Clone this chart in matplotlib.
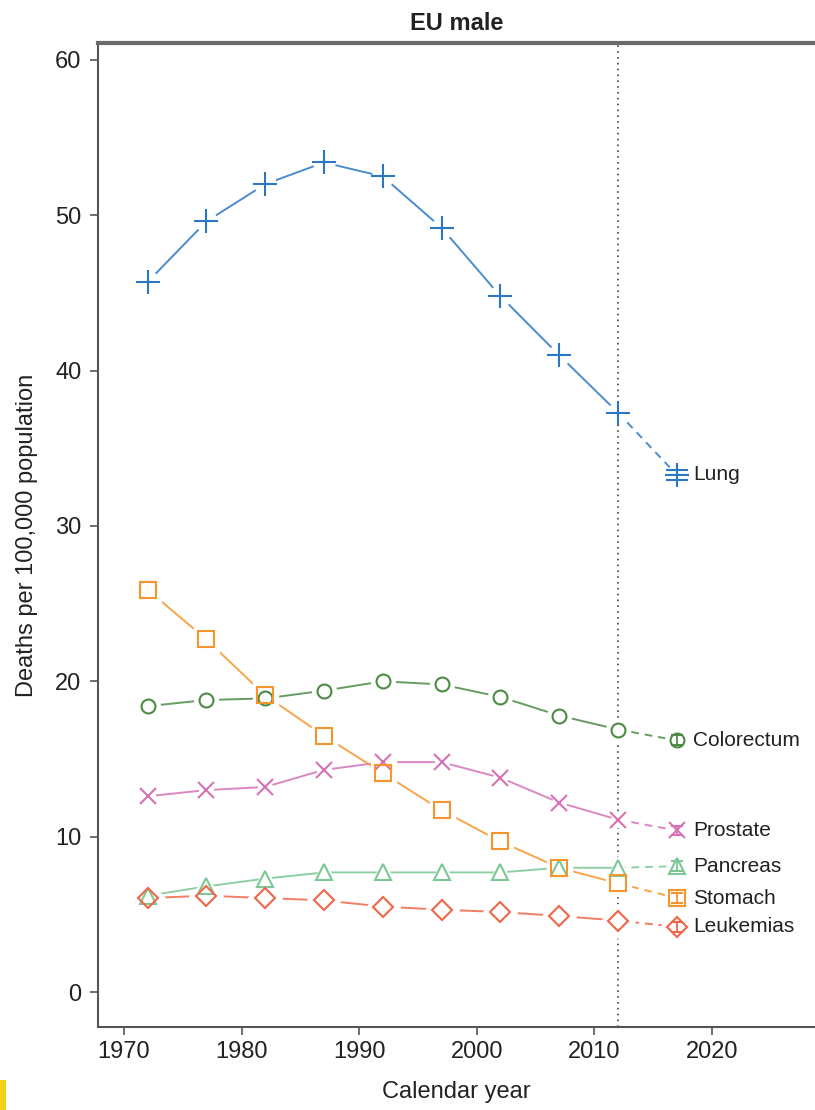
import numpy as np
import matplotlib
matplotlib.use('Agg')
import matplotlib.pyplot as plt
from matplotlib.patches import Rectangle

plt.rcParams['font.family'] = ['Liberation Sans', 'DejaVu Sans']

# Observed years (5-year midpoints) and the predicted year
years = [1972, 1977, 1982, 1987, 1992, 1997, 2002, 2007, 2012]
pred_year = 2017

cancers = ['Lung', 'Colorectum', 'Prostate', 'Pancreas', 'Stomach', 'Leukemias']
lung = [45.7, 49.6, 52.0, 53.4, 52.5, 49.2, 44.8, 41.0, 37.3]
colorectum = [18.4, 18.8, 18.9, 19.4, 20.0, 19.8, 19.0, 17.8, 16.9]
prostate = [12.6, 13.0, 13.2, 14.3, 14.8, 14.8, 13.8, 12.2, 11.1]
pancreas = [6.2, 6.8, 7.3, 7.7, 7.7, 7.7, 7.7, 8.0, 8.0]
stomach = [25.9, 22.7, 19.1, 16.5, 14.1, 11.7, 9.7, 8.0, 7.0]
leukemias = [6.05, 6.2, 6.05, 5.9, 5.5, 5.3, 5.15, 4.9, 4.6]
predicted = [33.3, 16.2, 10.4, 8.1, 6.05, 4.2]

series = [lung, colorectum, prostate, pancreas, stomach, leukemias]
colors = ['#2a78c4', '#4d8a45', '#d672b6', '#7cc795', '#f7952c', '#ef6649']
markers = ['+', 'o', 'x', '^', 's', 'D']
sizes = [17, 10, 11, 11, 11, 10]
cap_sizes = [16, 8, 9, 9, 9, 9]

fig = plt.figure(figsize=(8.15, 11.1), dpi=100)
ax = fig.add_axes([98 / 815, 1 - 1027 / 1110, 1 - 98 / 815, (1027 - 43) / 1110])

for vals, pred, col, mk, ms, cs, name in zip(series, predicted, colors, markers,
                                            sizes, cap_sizes, cancers):
    ax.plot(years, vals, color=col, lw=1.4, alpha=0.85, zorder=2)
    ax.plot([years[-1], pred_year], [vals[-1], pred], color=col, lw=1.4,
            alpha=0.85, ls=(0, (4, 3)), zorder=2)
    # white halo leaves a small gap between the line and each marker
    xs = years + [pred_year]
    ys = vals + [pred]
    if mk in ('+', 'x'):
        ax.plot(xs, ys, ls='none', marker='o', ms=ms * 0.9, mfc='white',
                mec='white', zorder=3)
    else:
        ax.plot(xs, ys, ls='none', marker=mk, ms=ms + 7, mfc='white',
                mec='white', zorder=3)
    ax.plot(years, vals, ls='none', marker=mk, ms=ms, mfc='none', mec=col,
            mew=1.5, zorder=4)
    ax.errorbar([pred_year], [pred], yerr=0.32, fmt=mk, ms=ms, mfc='none',
                mec=col, mew=1.5, ecolor=col, elinewidth=1.3, capsize=cs / 2,
                capthick=1.3, zorder=4)
    ax.text(2018.4, pred, name, fontsize=15, va='center', ha='left',
            color='#222222', zorder=5)

ax.axvline(2012, color='#444444', lw=1.2, ls=(0, (1, 2.5)), zorder=1)

ax.set_xlim(1967.79, 2028.76)
ax.set_ylim(-2.25, 61.09)
ax.set_xticks([1970, 1980, 1990, 2000, 2010, 2020])
ax.set_yticks([0, 10, 20, 30, 40, 50, 60])
ax.tick_params(labelsize=17, length=6, width=1.2, color='#555555',
               labelcolor='#222222')
ax.tick_params(axis='y', pad=6)
ax.tick_params(axis='x', pad=4)

ax.spines['right'].set_visible(False)
for side in ('left', 'bottom'):
    ax.spines[side].set_color('#555555')
    ax.spines[side].set_linewidth(1.5)
ax.spines['top'].set_color('#6a6a6a')
ax.spines['top'].set_linewidth(3)

ax.set_title('EU male', fontsize=17, fontweight='bold', color='#222222', pad=9)
ax.set_xlabel('Calendar year', fontsize=17, color='#222222', labelpad=13)
ax.set_ylabel('Deaths per 100,000 population', fontsize=17, color='#222222',
              labelpad=12)

# small yellow mark in the lower-left corner of the original scan
fig.patches.append(Rectangle((0, 0), 6 / 815, 30 / 1110, transform=fig.transFigure,
                             facecolor='#f2d21b', edgecolor='none'))

fig.savefig('out.png', dpi=100)
